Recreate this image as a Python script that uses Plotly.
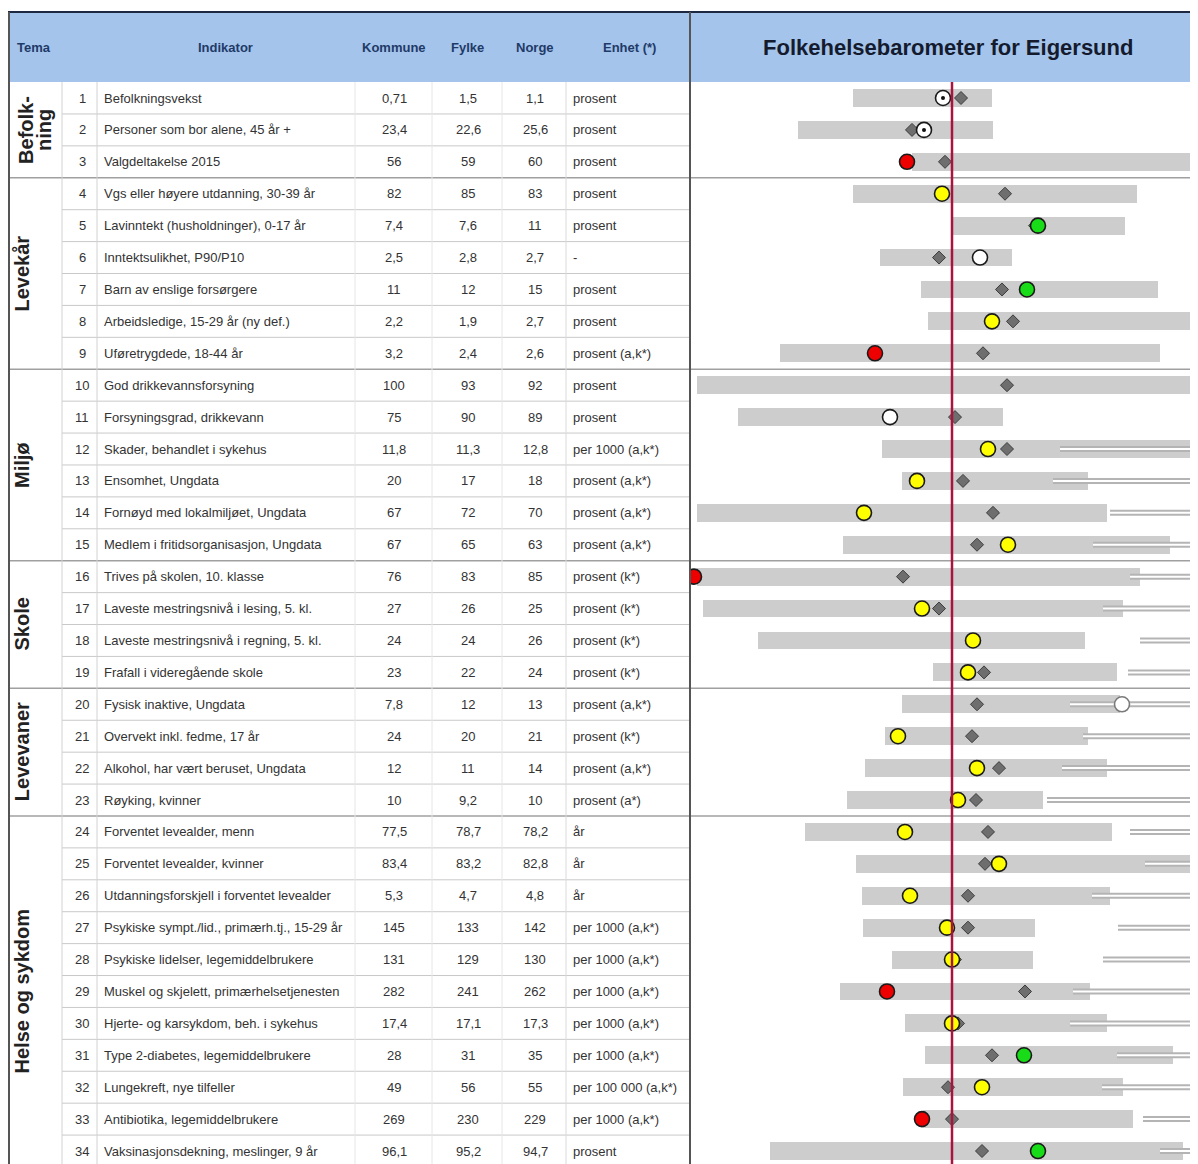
import plotly.graph_objects as go

W, H = 1198, 1164
OFF = 8                      # page body margin of the browser
WF, HF = W - OFF, H - OFF    # figure size so that the page content ends at the window edge

# ---------------- table data ----------------
indikator = [
    "Befolkningsvekst", "Personer som bor alene, 45 år +", "Valgdeltakelse 2015",
    "Vgs eller høyere utdanning, 30-39 år", "Lavinntekt (husholdninger), 0-17 år",
    "Inntektsulikhet, P90/P10", "Barn av enslige forsørgere", "Arbeidsledige, 15-29 år (ny def.)",
    "Uføretrygdede, 18-44 år", "God drikkevannsforsyning", "Forsyningsgrad, drikkevann",
    "Skader, behandlet i sykehus", "Ensomhet, Ungdata", "Fornøyd med lokalmiljøet, Ungdata",
    "Medlem i fritidsorganisasjon, Ungdata", "Trives på skolen, 10. klasse",
    "Laveste mestringsnivå i lesing, 5. kl.", "Laveste mestringsnivå i regning, 5. kl.",
    "Frafall i videregående skole", "Fysisk inaktive, Ungdata", "Overvekt inkl. fedme, 17 år",
    "Alkohol, har vært beruset, Ungdata", "Røyking, kvinner", "Forventet levealder, menn",
    "Forventet levealder, kvinner", "Utdanningsforskjell i forventet levealder",
    "Psykiske sympt./lid., primærh.tj., 15-29 år", "Psykiske lidelser, legemiddelbrukere",
    "Muskel og skjelett, primærhelsetjenesten", "Hjerte- og karsykdom, beh. i sykehus",
    "Type 2-diabetes, legemiddelbrukere", "Lungekreft, nye tilfeller",
    "Antibiotika, legemiddelbrukere", "Vaksinasjonsdekning, meslinger, 9 år",
]
kommune = [0.71, 23.4, 56, 82, 7.4, 2.5, 11, 2.2, 3.2, 100, 75, 11.8, 20, 67, 67, 76, 27, 24,
           23, 7.8, 24, 12, 10, 77.5, 83.4, 5.3, 145, 131, 282, 17.4, 28, 49, 269, 96.1]
fylke = [1.5, 22.6, 59, 85, 7.6, 2.8, 12, 1.9, 2.4, 93, 90, 11.3, 17, 72, 65, 83, 26, 24,
         22, 12, 20, 11, 9.2, 78.7, 83.2, 4.7, 133, 129, 241, 17.1, 31, 56, 230, 95.2]
norge = [1.1, 25.6, 60, 83, 11, 2.7, 15, 2.7, 2.6, 92, 89, 12.8, 18, 70, 63, 85, 25, 26,
         24, 13, 21, 14, 10, 78.2, 82.8, 4.8, 142, 130, 262, 17.3, 35, 55, 229, 94.7]
enhet = ["prosent", "prosent", "prosent", "prosent", "prosent", "-", "prosent", "prosent",
         "prosent (a,k*)", "prosent", "prosent", "per 1000 (a,k*)", "prosent (a,k*)",
         "prosent (a,k*)", "prosent (a,k*)", "prosent (k*)", "prosent (k*)", "prosent (k*)",
         "prosent (k*)", "prosent (a,k*)", "prosent (k*)", "prosent (a,k*)", "prosent (a*)",
         "år", "år", "år", "per 1000 (a,k*)", "per 1000 (a,k*)", "per 1000 (a,k*)",
         "per 1000 (a,k*)", "per 1000 (a,k*)", "per 100 000 (a,k*)", "per 1000 (a,k*)", "prosent"]

tema_navn = [["Befolk-", "ning"], ["Levekår"], ["Miljø"], ["Skole"], ["Levevaner"], ["Helse og sykdom"]]
tema_fra = [1, 4, 10, 16, 20, 24]
tema_til = [3, 9, 15, 19, 23, 34]

header = ["Tema", "Indikator", "Kommune", "Fylke", "Norge", "Enhet (*)"]
tittel = "Folkehelsebarometer for Eigersund"

# ---------------- barometer data (standardised scale, 0 = Norge) ----------------
bar_fra = [-0.99, -1.54, -0.40, -0.99, 0.00, -0.72, -0.31, -0.24, -1.72, -2.55, -2.14, -0.70,
           -0.50, -2.55, -1.09, -2.55, -2.49, -1.94, -0.19, -0.50, -0.67, -0.87, -1.05, -1.47,
           -0.96, -0.90, -0.89, -0.60, -1.12, -0.47, -0.27, -0.49, -0.29, -1.82]
bar_til = [0.40, 0.41, 2.50, 1.85, 1.73, 0.60, 2.06, 2.50, 2.08, 2.50, 0.51, 2.50,
           1.36, 1.55, 2.18, 1.88, 1.71, 1.33, 1.65, 1.68, 1.36, 1.55, 0.91, 1.60,
           2.50, 1.58, 0.83, 0.81, 1.38, 1.55, 2.21, 1.71, 1.81, 2.31]
hale_fra = [None, None, None, None, None, None, None, None, None, None, None, 1.08,
            1.01, 1.58, 1.41, 1.78, 1.51, 1.88, 1.76, 1.18, 1.31, 1.10, 0.95, 1.78,
            1.93, 1.40, 1.66, 1.51, 1.21, 1.18, 1.65, 1.50, 1.91, 2.08]
kommune_pos = [-0.09, -0.28, -0.45, -0.10, 0.86, 0.28, 0.75, 0.40, -0.77, None, -0.62, 0.36,
               -0.35, -0.88, 0.56, -2.58, -0.30, 0.21, 0.16, 1.70, -0.54, 0.25, 0.06, -0.47,
               0.47, -0.42, -0.05, 0.00, -0.65, 0.00, 0.72, 0.30, -0.30, 0.86]
kommune_farge = ["hvitprikk", "hvitprikk", "rod", "gul", "gronn", "hvit", "gronn", "gul", "rod", None,
                 "hvit", "gul", "gul", "gul", "gul", "rod", "gul", "gul", "gul", "ring", "gul",
                 "gul", "gul", "gul", "gul", "gul", "gul", "gul", "rod", "gul", "gronn", "gul",
                 "rod", "gronn"]
fylke_pos = [0.09, -0.40, -0.07, 0.53, 0.83, -0.13, 0.50, 0.61, 0.31, 0.55, 0.03, 0.55,
             0.11, 0.41, 0.25, -0.49, -0.13, 0.21, 0.32, 0.25, 0.20, 0.47, 0.24, 0.36,
             0.33, 0.16, 0.16, 0.03, 0.73, 0.06, 0.40, -0.04, 0.00, 0.30]

# ---------------- layout constants (page pixels) ----------------
rows = list(range(1, len(indikator) + 1))
ROW0_PX, ROW_PX = 98, 31.91
def ypx(px):
    return 1 + (px - ROW0_PX) / ROW_PX
Y_TOP = ypx(OFF)
Y_BOT = ypx(H)
XMIN, XMAX = -2.62, 2.46
CHART_LEFT = 690
def P(px):
    return (px - OFF) / WF

farger = {"gul": "#FFFF00", "rod": "#EE0000", "gronn": "#18DC18", "hvit": "#FFFFFF",
          "hvitprikk": "#FFFFFF", "ring": "#FFFFFF"}

fig = go.Figure()

# grey bars
fig.add_trace(go.Bar(
    y=rows, x=[t - f for f, t in zip(bar_fra, bar_til)], base=bar_fra, orientation="h",
    width=0.56, marker=dict(color="#CDCDCD", line=dict(width=0)), hoverinfo="skip",
    xaxis="x", yaxis="y"))

# tails (double line to the right edge)
tx, ty = [], []
for r, h in zip(rows, hale_fra):
    if h is not None:
        tx += [h, XMAX + 0.2, None]
        ty += [r, r, None]
fig.add_trace(go.Scatter(x=tx, y=ty, mode="lines", line=dict(color="#B4B4B4", width=6),
                         hoverinfo="skip"))
fig.add_trace(go.Scatter(x=tx, y=ty, mode="lines", line=dict(color="#FFFFFF", width=2),
                         hoverinfo="skip"))

# fylke diamonds
fig.add_trace(go.Scatter(
    x=fylke_pos, y=rows, mode="markers",
    marker=dict(symbol="diamond", size=10, color="#6E6E6E", line=dict(color="#3C3C3C", width=1)),
    hoverinfo="skip"))

# kommune circles
kx = [p for p, c in zip(kommune_pos, kommune_farge) if c is not None]
ky = [r for r, c in zip(rows, kommune_farge) if c is not None]
kc = [farger[c] for c in kommune_farge if c is not None]
kl = ["#7A7A7A" if c == "ring" else "#1A1A1A" for c in kommune_farge if c is not None]
fig.add_trace(go.Scatter(
    x=kx, y=ky, mode="markers",
    marker=dict(symbol="circle", size=15, color=kc, line=dict(color=kl, width=1.6)),
    hoverinfo="skip"))
dx = [p for p, c in zip(kommune_pos, kommune_farge) if c == "hvitprikk"]
dy = [r for r, c in zip(rows, kommune_farge) if c == "hvitprikk"]
fig.add_trace(go.Scatter(x=dx, y=dy, mode="markers",
                         marker=dict(symbol="circle", size=4, color="#111111"), hoverinfo="skip"))

shapes = []
# header band
shapes.append(dict(type="rect", xref="paper", yref="y", x0=P(8), x1=1, y0=ypx(13), y1=0.5,
                   fillcolor="#A4C4EB", line=dict(width=0), layer="below"))
# row separators (table)
grense = set(tema_til)
for r in rows[:-1]:
    if r in grense:
        shapes.append(dict(type="line", xref="paper", yref="y", x0=P(8), x1=1, y0=r + 0.5, y1=r + 0.5,
                           line=dict(color="#A0A0A0", width=1.5)))
    else:
        shapes.append(dict(type="line", xref="paper", yref="y", x0=P(62), x1=P(CHART_LEFT),
                           y0=r + 0.5, y1=r + 0.5, line=dict(color="#C9C9C9", width=1)))
# light vertical column lines
for cx, col in [(62, "#D2D2D2"), (97, "#D2D2D2"), (355, "#E6E6E6"), (432, "#E6E6E6"),
                (502, "#E6E6E6"), (566, "#DADADA")]:
    shapes.append(dict(type="line", xref="paper", yref="y", x0=P(cx), x1=P(cx), y0=0.5, y1=Y_BOT,
                       line=dict(color=col, width=1)))
# borders
shapes.append(dict(type="line", xref="paper", yref="y", x0=P(8), x1=1, y0=ypx(12), y1=ypx(12),
                   line=dict(color="#1E2840", width=2)))
shapes.append(dict(type="line", xref="paper", yref="y", x0=P(9), x1=P(9), y0=ypx(12), y1=Y_BOT,
                   line=dict(color="#555555", width=2)))
shapes.append(dict(type="line", xref="paper", yref="y", x0=P(CHART_LEFT), x1=P(CHART_LEFT),
                   y0=ypx(12), y1=Y_BOT, line=dict(color="#555555", width=2)))
# Norway reference line
shapes.append(dict(type="line", xref="x", yref="y", x0=0, x1=0, y0=0.5, y1=Y_BOT,
                   line=dict(color="#A8143E", width=2.5), layer="above"))

ann = []
FONT = "Arial"
def fmt(v):
    return f"{v:g}".replace(".", ",")

# header labels
hx = [34, 225, 394, 467, 535, 629]
for t, x in zip(header, hx):
    ann.append(dict(text=f"<b>{t}</b>", x=P(x), y=ypx(47), xref="paper", yref="y", showarrow=False,
                    xanchor="center", yanchor="middle",
                    font=dict(family=FONT, size=13, color="#1F3A68")))
ann.append(dict(text=f"<b>{tittel}</b>", x=P(948), y=ypx(47), xref="paper", yref="y", showarrow=False,
                xanchor="center", yanchor="middle", font=dict(family=FONT, size=22, color="#141B2E")))

# body text
bf = dict(family=FONT, size=13, color="#333333")
for r, ind, k, f, n, e in zip(rows, indikator, kommune, fylke, norge, enhet):
    ann.append(dict(text=str(r), x=P(82), y=r, xref="paper", yref="y", showarrow=False,
                    xanchor="center", yanchor="middle", font=bf))
    ann.append(dict(text=ind, x=P(102), y=r, xref="paper", yref="y", showarrow=False,
                    xanchor="left", yanchor="middle", font=bf))
    for v, cx in [(k, 394), (f, 468), (n, 535)]:
        ann.append(dict(text=fmt(v), x=P(cx), y=r, xref="paper", yref="y", showarrow=False,
                        xanchor="center", yanchor="middle", font=bf))
    ann.append(dict(text=e, x=P(571), y=r, xref="paper", yref="y", showarrow=False,
                    xanchor="left", yanchor="middle", font=bf))

# tema labels (rotated)
tf = dict(family=FONT, size=20, color="#222222")
for navn, a, b in zip(tema_navn, tema_fra, tema_til):
    yc = (a + b) / 2
    xs = [22] if len(navn) == 1 else [26, 44]
    for t, x in zip(navn, xs):
        ann.append(dict(text=f"<b>{t}</b>", x=P(x), y=yc, xref="paper", yref="y", showarrow=False,
                        textangle=-90, xanchor="center", yanchor="middle", font=tf))

fig.update_layout(
    width=WF, height=HF, margin=dict(l=0, r=0, t=0, b=0),
    paper_bgcolor="white", plot_bgcolor="rgba(0,0,0,0)", showlegend=False,
    barmode="overlay", bargap=0,
    xaxis=dict(domain=[P(CHART_LEFT), 1], range=[XMIN, XMAX], visible=False, fixedrange=True),
    yaxis=dict(domain=[0, 1], range=[Y_BOT, Y_TOP], visible=False, fixedrange=True),
    shapes=shapes, annotations=ann,
)

fig.write_html("out.html")
